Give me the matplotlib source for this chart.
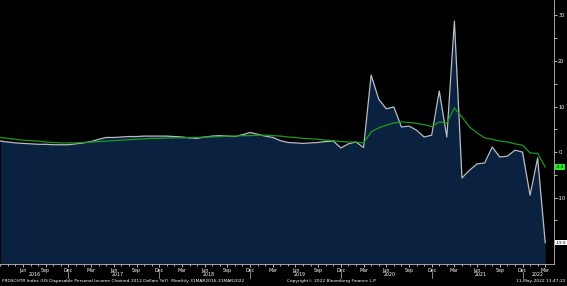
import numpy as np
import pandas as pd
import matplotlib.pyplot as plt

# Monthly, 31MAR2016 - 31MAR2022
dates = pd.date_range('2016-03-31', periods=73, freq='ME')

yoy = [2.4, 2.2, 2.0, 1.9, 1.8, 1.7, 1.7, 1.6, 1.6, 1.6, 1.8, 2.0,
       2.3, 2.8, 3.2, 3.2, 3.3, 3.4, 3.4, 3.5, 3.5, 3.5, 3.5, 3.4,
       3.3, 3.1, 3.0, 3.3, 3.5, 3.6, 3.5, 3.4, 3.8, 4.3, 3.9, 3.5,
       3.2, 2.5, 2.1, 2.0, 1.9, 2.0, 2.1, 2.3, 2.4, 0.9, 1.8, 2.2,
       1.0, 16.9, 11.6, 9.5, 9.9, 5.5, 5.7, 4.8, 3.3, 3.7, 13.4, 3.3,
       28.8, -5.7, -4.0, -2.6, -2.4, 1.1, -1.1, -0.9, 0.4, 0.0, -9.5, -1.3,
       -19.9]

# green moving average line
avg = [3.2, 3.0, 2.8, 2.6, 2.5, 2.4, 2.2, 2.1, 2.0, 2.0, 2.0, 2.1,
       2.2, 2.3, 2.4, 2.5, 2.6, 2.7, 2.8, 2.9, 3.0, 3.0, 3.1, 3.1,
       3.1, 3.2, 3.2, 3.3, 3.3, 3.4, 3.5, 3.5, 3.6, 3.6, 3.7, 3.7,
       3.6, 3.5, 3.3, 3.2, 3.0, 2.9, 2.8, 2.6, 2.5, 2.3, 2.2, 2.2,
       2.0, 4.4, 5.3, 5.9, 6.4, 6.6, 6.5, 6.3, 6.0, 5.6, 6.6, 6.4,
       9.7, 7.7, 5.5, 4.2, 3.1, 2.8, 2.4, 2.2, 1.8, 1.5, -0.2, -0.3,
       -3.3]

y_ticks = [30, 20, 10, 0, -10]

title = 'FRDSCHTR Index (US Disposable Personal Income Chained 2012 Dollars YoY)  Monthly 31MAR2016-31MAR2022'
copyright_txt = 'Copyright\u00a9 2022 Bloomberg Finance L.P.'
stamp = '11-May-2022 13:47:22'

x = np.arange(len(dates))
ymin, ymax = -24.6, 33.4

fig = plt.figure(figsize=(5.67, 2.86), dpi=100, facecolor='black')
ax = fig.add_axes([0, 22 / 286, 554 / 567, 264 / 286], facecolor='black')

# area + lines
ax.fill_between(x, yoy, ymin, color='#0a2140', lw=0)
ax.plot(x, yoy, color='#b8bcc4', lw=0.9)
ax.plot(x, avg, color='#1c9a1c', lw=0.9)

ax.set_xlim(-0.04, 73.16)
ax.set_ylim(ymin, ymax)

# right axis
for s in ['left', 'top']:
    ax.spines[s].set_visible(False)
ax.spines['right'].set_color('#bbbbbb')
ax.spines['bottom'].set_color('#bbbbbb')
ax.spines['right'].set_linewidth(0.6)
ax.spines['bottom'].set_linewidth(0.6)
ax.yaxis.tick_right()
ax.set_yticks(y_ticks)
ax.set_yticklabels([str(v) for v in y_ticks])
ax.set_yticks(np.arange(-20, 35, 5), minor=True)
ax.tick_params(axis='y', which='both', colors='white', labelsize=3.6, length=2, width=0.5, pad=1)

# x axis: monthly minor ticks, quarterly labels
ax.set_xticks(x, minor=True)
qi = [i for i in x if dates[i].month in (3, 6, 9, 12) and i > 0]
ax.set_xticks(qi)
ax.set_xticklabels([dates[i].strftime('%b') for i in qi])
ax.tick_params(axis='x', which='both', colors='white', labelsize=3.4, width=0.5, pad=0.8)
ax.tick_params(axis='x', which='major', length=2)
ax.tick_params(axis='x', which='minor', length=1.2)

# year labels and separators
years = sorted(set(d.year for d in dates))
for yr in years:
    idx = [i for i in x if dates[i].year == yr]
    ax.text(np.mean(idx), -0.039, str(yr), transform=ax.get_xaxis_transform(),
            color='white', fontsize=3.4, ha='center', va='center')
for i in x:
    if dates[i].month == 12:
        ax.plot([i, i], [-0.03, -0.052], transform=ax.get_xaxis_transform(),
                color='#bbbbbb', lw=0.5, clip_on=False)

# last value tags
ax.annotate(f'{avg[-1]:.1f}', xy=(1.0, avg[-1]), xycoords=('axes fraction', 'data'),
            xytext=(1.5, 0), textcoords='offset points', color='black', fontsize=3.2,
            va='center', ha='left',
            bbox=dict(boxstyle='square,pad=0.2', fc='#22ee22', ec='none'))
ax.annotate(f'{yoy[-1]:.1f}', xy=(1.0, yoy[-1]), xycoords=('axes fraction', 'data'),
            xytext=(1.5, 0), textcoords='offset points', color='black', fontsize=3.0,
            va='center', ha='left',
            bbox=dict(boxstyle='square,pad=0.2', fc='white', ec='none'))

# footer
fig.text(0.003, 0.017, title, color='white', fontsize=3.2, ha='left', va='center')
fig.text(0.585, 0.017, copyright_txt, color='white', fontsize=3.2, ha='center', va='center')
fig.text(0.997, 0.017, stamp, color='white', fontsize=3.2, ha='right', va='center')

fig.savefig('out.png', dpi=100, facecolor='black')
